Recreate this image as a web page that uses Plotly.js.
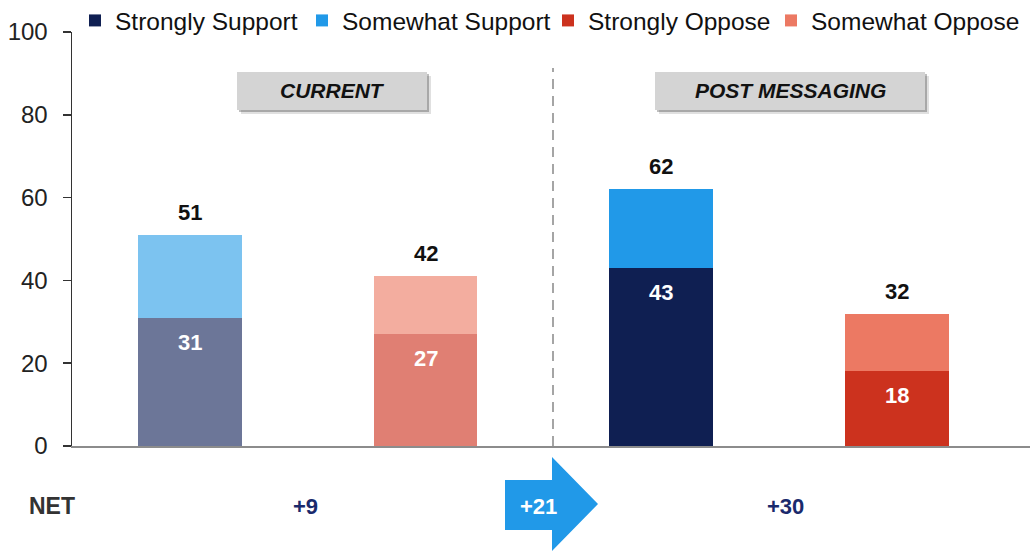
<!DOCTYPE html>
<html><head><meta charset="utf-8">
<script src="https://cdn.plot.ly/plotly-3.0.1.min.js"></script>
<style>html,body{margin:0;padding:0;background:#fff;} #chart{width:1030px;height:551px;}</style>
</head><body><div id="chart"></div>
<script>
// ---- data ----
const stages = ["CURRENT", "POST MESSAGING"];
const seriesNames = ["Strongly Support", "Somewhat Support", "Strongly Oppose", "Somewhat Oppose"];
const stronglySupport = [31, 43];
const somewhatSupport = [20, 19];
const stronglyOppose = [27, 18];
const somewhatOppose = [14, 14];
const supportTotalLabels = [51, 62];
const opposeTotalLabels = [42, 32];
const netTitle = "NET";

// ---- styling ----
const FONT = "Liberation Sans, Arial, Helvetica, sans-serif";
const fullColors = ["#0f1f52", "#2199e8", "#cc321e", "#ec7963"];
const fadedColors = ["#6c7698", "#7cc3f0", "#e07f73", "#f3ad9f"];
const legendWidths = [182, 201, 178, 210];
const W = 1030, H = 551, ML = 72, MR = 0, MT = 32, MB = 105;
const PW = W - ML - MR, PH = H - MT - MB;
const px = x => (x - ML) / PW;          // pixel -> paper x (decorations only)
const py = y => (H - MB - y) / PH;      // pixel -> paper y (decorations only)

const seriesValues = [stronglySupport, somewhatSupport, stronglyOppose, somewhatOppose];
const isSupport = [true, true, false, false];
const slot = (k, i) => 2 * i + (isSupport[k] ? 0 : 1);

const traces = [];
seriesNames.forEach((name, k) => {
  stages.forEach((st, i) => {
    traces.push({
      type: "bar",
      name: name,
      legendgroup: name,
      showlegend: i === stages.length - 1,
      legendwidth: legendWidths[k],
      x: [slot(k, i)],
      y: [seriesValues[k][i]],
      width: 0.44,
      marker: { color: i === 0 ? fadedColors[k] : fullColors[k], line: { width: 0 } },
      hoverinfo: "skip"
    });
  });
});

const annotations = [];
const nets = stages.map((s, i) => supportTotalLabels[i] - opposeTotalLabels[i]);
const fmt = v => (v > 0 ? "+" : "") + v;

stages.forEach((st, i) => {
  [[0, 1, supportTotalLabels[i]], [2, 3, opposeTotalLabels[i]]].forEach(([k, k2, lbl]) => {
    const x = slot(k, i);
    const top = seriesValues[k][i] + seriesValues[k2][i];
    annotations.push({ x: x, y: top, xref: "x", yref: "y", text: "<b>" + lbl + "</b>",
      showarrow: false, xanchor: "center", yanchor: "bottom", yshift: 8, font: { size: 22, color: "#111", family: FONT } });
    annotations.push({ x: x, y: seriesValues[k][i], xref: "x", yref: "y", text: "<b>" + seriesValues[k][i] + "</b>",
      showarrow: false, xanchor: "center", yanchor: "top", yshift: -10, font: { size: 22, color: "#ffffff", family: FONT } });
  });
  annotations.push({ x: 2 * i + 0.5, y: py(506), xref: "x", yref: "paper", text: "<b>" + fmt(nets[i]) + "</b>",
    showarrow: false, xanchor: "center", yanchor: "middle", xshift: i === 0 ? -2 : 6,
    font: { size: 22, color: "#1a2a6c", family: FONT } });
});
annotations.push({ x: px(52), y: py(506), xref: "paper", yref: "paper", text: "<b>" + netTitle + "</b>",
  showarrow: false, xanchor: "center", yanchor: "middle", font: { size: 23, color: "#333", family: FONT } });
annotations.push({ x: px(538), y: py(506), xref: "paper", yref: "paper",
  text: "<b>" + fmt(nets[1] - nets[0]) + "</b>",
  showarrow: false, xanchor: "center", yanchor: "middle", font: { size: 22, color: "#ffffff", family: FONT } });

// stage label boxes
const boxes = [[237, 427, 72, 110], [655, 925, 72, 110]];
const shapes = [];
boxes.forEach((b, i) => {
  shapes.push({ type: "rect", xref: "paper", yref: "paper", x0: px(b[0] + 4), x1: px(b[1] + 4), y0: py(b[2] + 4), y1: py(b[3] + 4),
    fillcolor: "rgba(0,0,0,0.12)", line: { width: 0 } });
  shapes.push({ type: "rect", xref: "paper", yref: "paper", x0: px(b[0] + 2), x1: px(b[1] + 2), y0: py(b[2] + 2), y1: py(b[3] + 2),
    fillcolor: "rgba(0,0,0,0.25)", line: { width: 0 } });
  shapes.push({ type: "rect", xref: "paper", yref: "paper", x0: px(b[0]), x1: px(b[1]), y0: py(b[2]), y1: py(b[3]),
    fillcolor: "#d4d4d4", line: { width: 0 } });
  annotations.push({ x: px((b[0] + b[1]) / 2), y: py((b[2] + b[3]) / 2), xref: "paper", yref: "paper",
    text: "<b><i>" + stages[i] + "</i></b>", showarrow: false, xanchor: "center", yanchor: "middle",
    font: { size: 21, color: "#111", family: FONT } });
});
// divider
shapes.push({ type: "line", xref: "paper", yref: "paper", x0: px(553), x1: px(553), y0: 0, y1: py(68),
  line: { color: "#888", width: 1.5, dash: "10px,7px" } });
// arrow
const ap = [[505, 480], [552, 480], [552, 457], [598, 504], [552, 551], [552, 530], [505, 530]];
shapes.push({ type: "path", xref: "paper", yref: "paper",
  path: "M" + ap.map(p => px(p[0]) + "," + py(p[1])).join(" L") + " Z",
  fillcolor: "#2199e8", line: { width: 0 } });

const layout = {
  width: W, height: H,
  margin: { l: ML, r: MR, t: MT, b: MB, autoexpand: false },
  paper_bgcolor: "#fff", plot_bgcolor: "#fff",
  font: { family: FONT, color: "#222" },
  barmode: "stack",
  showlegend: true,
  legend: { orientation: "h", x: px(75), xanchor: "left", y: py(-2), yanchor: "top",
    font: { size: 24.5, color: "#111", family: FONT }, bgcolor: "rgba(0,0,0,0)", traceorder: "normal",
    itemclick: false, itemdoubleclick: false },
  xaxis: { range: [-0.5, 3.565], showticklabels: false, ticks: "", showgrid: false, zeroline: false,
    showline: true, linecolor: "#8c8c8c", linewidth: 2, fixedrange: true },
  yaxis: { range: [0, 100], tickvals: [0, 20, 40, 60, 80, 100], ticks: "outside", ticklen: 8, tickwidth: 1.5,
    tickcolor: "#333", showline: true, linecolor: "#333", linewidth: 1.5, showgrid: false, zeroline: false,
    tickfont: { size: 24, color: "#222", family: FONT }, ticklabelstandoff: 10, fixedrange: true },
  shapes: shapes,
  annotations: annotations
};

Plotly.newPlot("chart", traces, layout, { displayModeBar: false, staticPlot: true });
</script>
</body></html>
